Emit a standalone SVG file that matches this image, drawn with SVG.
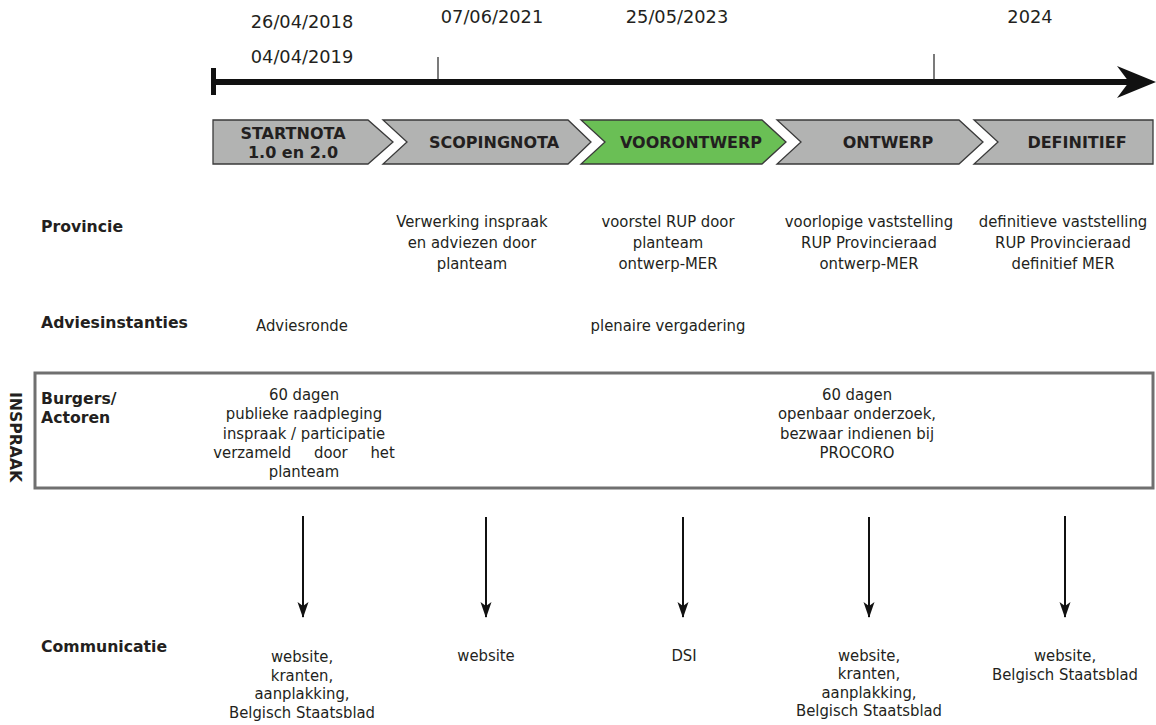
<svg xmlns="http://www.w3.org/2000/svg" width="1156" height="725" viewBox="0 0 1156 725">
<style>
.date{font-family:"DejaVu Sans","Liberation Sans",sans-serif;font-size:17.8px;fill:#231f20;text-anchor:middle}
.ph{font-family:"DejaVu Sans","Liberation Sans",sans-serif;font-weight:bold;font-size:16px;fill:#231f20;text-anchor:middle}
.chev{fill:#b2b3b2;stroke:#3a3a3a;stroke-width:1.3}
.green{fill:#6abf55}
.lbl{font-family:"DejaVu Sans","Liberation Sans",sans-serif;font-weight:bold;font-size:15.7px;fill:#231f20}
.t{font-family:"DejaVu Sans Condensed","DejaVu Sans","Liberation Sans Narrow",sans-serif;font-stretch:condensed;font-size:16.5px;fill:#231f20;text-anchor:middle}
.arr{stroke:#111;stroke-width:2;fill:none}
</style>
<defs>
<marker id="ah" markerWidth="16" markerHeight="14" refX="15" refY="7" orient="auto" markerUnits="userSpaceOnUse">
<path d="M0,1.5 L16,7 L0,12.5 L4,7 Z" fill="#111"/>
</marker>
</defs>
<g id="timeline">
<line x1="214" y1="82" x2="1130" y2="82" stroke="#111" stroke-width="6"/>
<rect x="211" y="68" width="5" height="27" fill="#111"/>
<path d="M1117,66 L1156,82 L1117,98 L1129,82 Z" fill="#111"/>
<line x1="438" y1="57" x2="438" y2="80" stroke="#222" stroke-width="1.2"/>
<line x1="934" y1="54" x2="934" y2="80" stroke="#222" stroke-width="1.2"/>
<text class="date" x="302" y="28">26/04/2018</text>
<text class="date" x="302" y="63">04/04/2019</text>
<text class="date" x="492" y="23">07/06/2021</text>
<text class="date" x="677" y="23">25/05/2023</text>
<text class="date" x="1030" y="23">2024</text>
</g>
<g id="phase-startnota">
<path class="chev" d="M213,120 L368,120 L393,142 L368,164 L213,164 Z"/>
<text class="ph" x="293" y="139">STARTNOTA</text>
<text class="ph" x="293" y="158">1.0 en 2.0</text>
</g>
<g id="phase-scopingnota">
<path class="chev" d="M383,120 L568,120 L591,142 L568,164 L383,164 L407,142 Z"/>
<text class="ph" x="494" y="148">SCOPINGNOTA</text>
</g>
<g id="phase-voorontwerp">
<path class="chev green" d="M581,120 L762,120 L786,142 L762,164 L581,164 L605,142 Z"/>
<text class="ph" x="691" y="148">VOORONTWERP</text>
</g>
<g id="phase-ontwerp">
<path class="chev" d="M777,120 L959,120 L983,142 L959,164 L777,164 L801,142 Z"/>
<text class="ph" x="888" y="148">ONTWERP</text>
</g>
<g id="phase-definitief">
<path class="chev" d="M974,120 L1153,120 L1153,164 L974,164 L998,142 Z"/>
<text class="ph" x="1077" y="148">DEFINITIEF</text>
</g>
<g id="row-labels">
<text class="lbl" x="41" y="232">Provincie</text>
<text class="lbl" x="41" y="328">Adviesinstanties</text>
<text class="lbl" x="41" y="404">Burgers/</text>
<text class="lbl" x="41" y="423">Actoren</text>
<text class="lbl" x="41" y="652">Communicatie</text>
<text class="lbl" x="0" y="0" font-size="13" transform="translate(10,392) rotate(90)">INSPRAAK</text>
</g>
<g id="provincie">
<text class="t" x="472" y="227">Verwerking inspraak</text>
<text class="t" x="472" y="248">en adviezen door</text>
<text class="t" x="472" y="269">planteam</text>
<text class="t" x="668" y="227">voorstel RUP door</text>
<text class="t" x="668" y="248">planteam</text>
<text class="t" x="668" y="269">ontwerp-MER</text>
<text class="t" x="869" y="227">voorlopige vaststelling</text>
<text class="t" x="869" y="248">RUP Provincieraad</text>
<text class="t" x="869" y="269">ontwerp-MER</text>
<text class="t" x="1063" y="227">definitieve vaststelling</text>
<text class="t" x="1063" y="248">RUP Provincieraad</text>
<text class="t" x="1063" y="269">definitief MER</text>
</g>
<g id="adviesinstanties">
<text class="t" x="302" y="331">Adviesronde</text>
<text class="t" x="668" y="331">plenaire vergadering</text>
</g>
<g id="inspraak-box">
<rect x="35" y="373" width="1118" height="115" fill="none" stroke="#707070" stroke-width="3"/>
<text class="t" x="304" y="400">60 dagen</text>
<text class="t" x="304" y="419">publieke raadpleging</text>
<text class="t" x="304" y="439">inspraak / participatie</text>
<text class="t" x="304" y="458" word-spacing="18">verzameld door het</text>
<text class="t" x="304" y="477">planteam</text>
<text class="t" x="857" y="400">60 dagen</text>
<text class="t" x="857" y="419">openbaar onderzoek,</text>
<text class="t" x="857" y="439">bezwaar indienen bij</text>
<text class="t" x="857" y="458">PROCORO</text>
</g>
<g id="connectors">
<line class="arr" x1="303" y1="516" x2="303" y2="617" marker-end="url(#ah)"/>
<line class="arr" x1="486" y1="517" x2="486" y2="617" marker-end="url(#ah)"/>
<line class="arr" x1="683" y1="517" x2="683" y2="617" marker-end="url(#ah)"/>
<line class="arr" x1="869" y1="517" x2="869" y2="617" marker-end="url(#ah)"/>
<line class="arr" x1="1065" y1="516" x2="1065" y2="617" marker-end="url(#ah)"/>
</g>
<g id="communicatie">
<text class="t" x="302" y="662">website,</text>
<text class="t" x="302" y="681">kranten,</text>
<text class="t" x="302" y="699">aanplakking,</text>
<text class="t" x="302" y="718">Belgisch Staatsblad</text>
<text class="t" x="486" y="661">website</text>
<text class="t" x="684" y="661">DSI</text>
<text class="t" x="869" y="661">website,</text>
<text class="t" x="869" y="679">kranten,</text>
<text class="t" x="869" y="698">aanplakking,</text>
<text class="t" x="869" y="716">Belgisch Staatsblad</text>
<text class="t" x="1065" y="661">website,</text>
<text class="t" x="1065" y="680">Belgisch Staatsblad</text>
</g>
</svg>
